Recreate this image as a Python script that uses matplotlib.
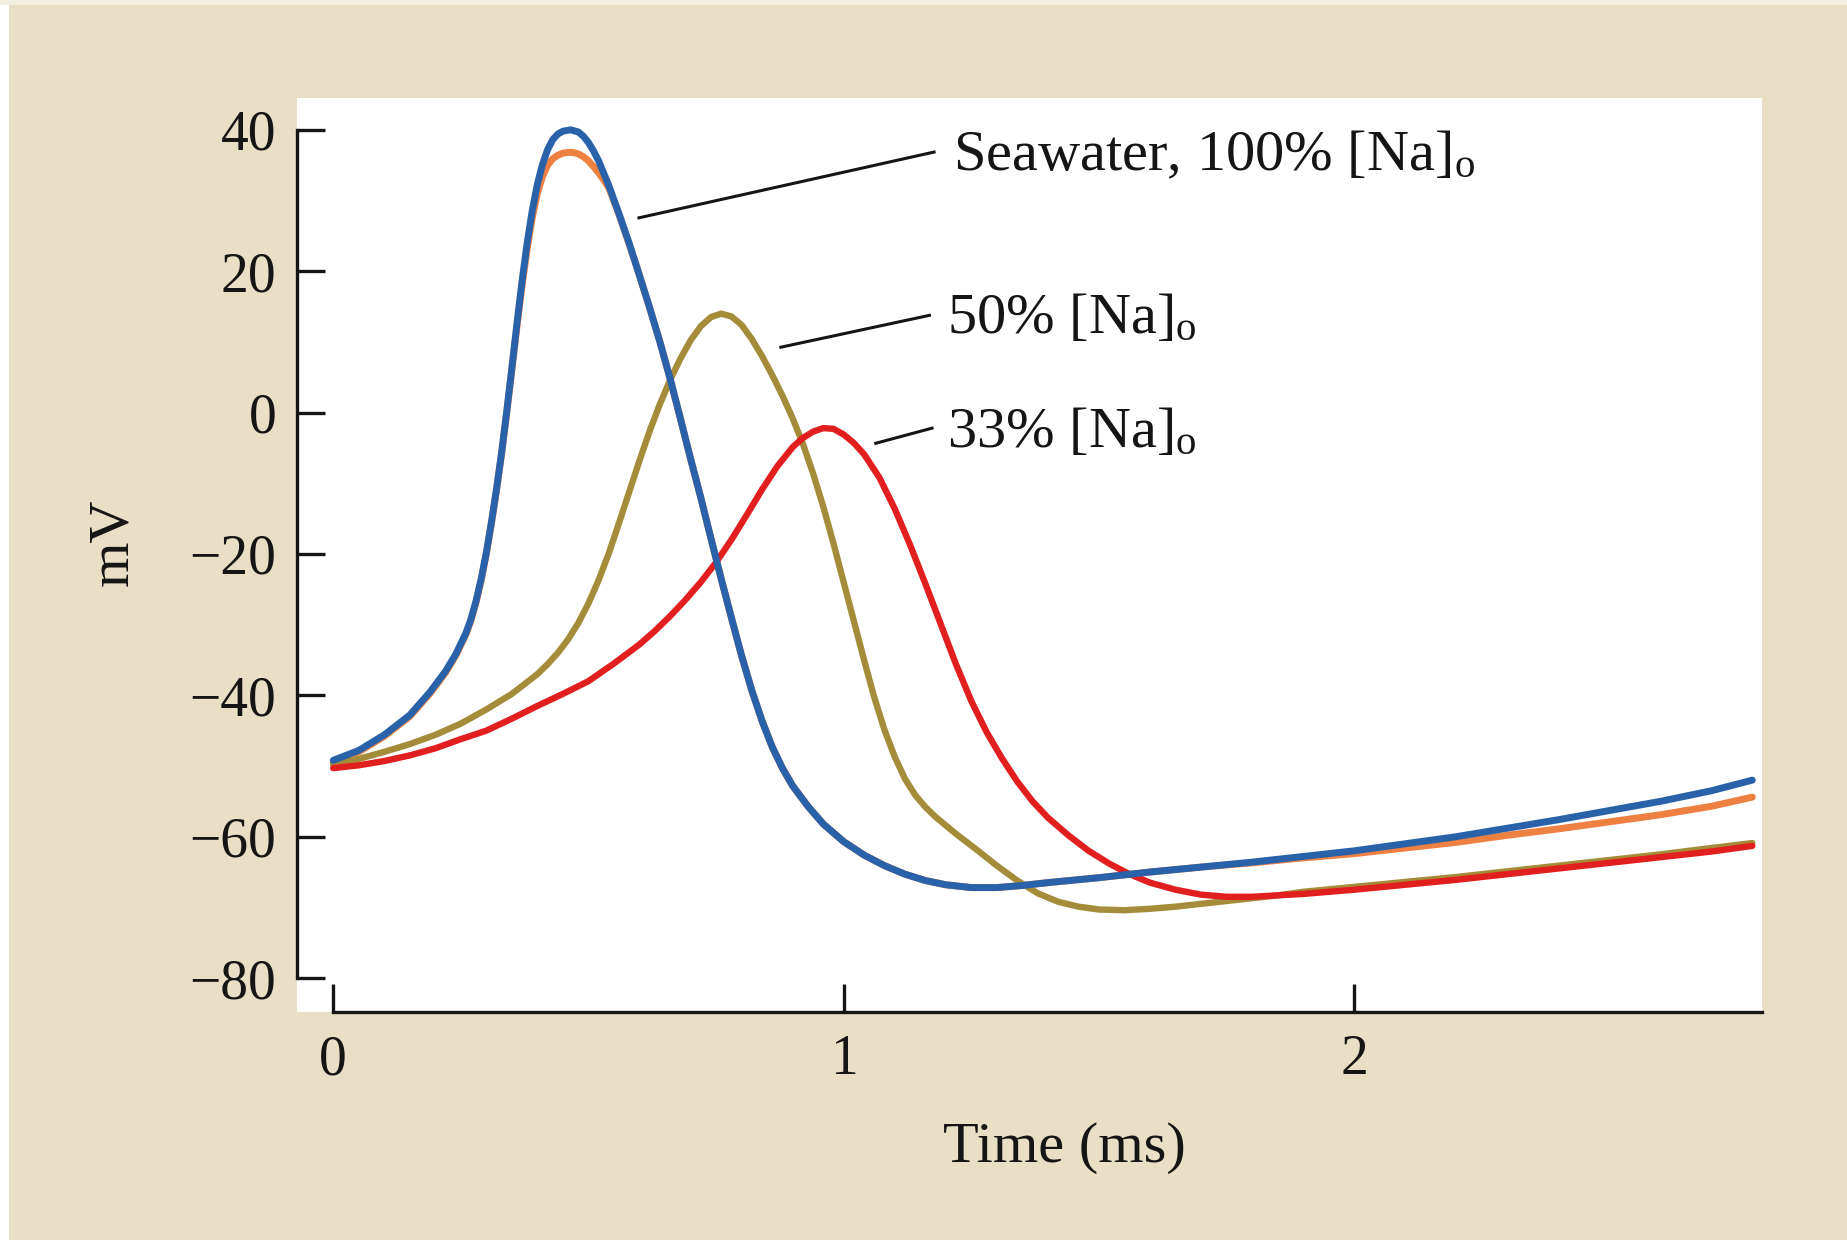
import matplotlib
matplotlib.use("Agg")
import matplotlib.pyplot as plt
from matplotlib.patches import Rectangle

plt.rcParams['font.family'] = ['Liberation Serif', 'DejaVu Serif']
plt.rcParams['mathtext.fontset'] = 'custom'
plt.rcParams['mathtext.rm'] = 'Liberation Serif'
plt.rcParams['mathtext.it'] = 'Liberation Serif:italic'

# ---------------- data (time in ms, membrane potential in mV) ----------------
t_blue = [0.00, 0.05, 0.10, 0.15, 0.19, 0.22, 0.24, 0.26, 0.27, 0.28, 0.29, 0.30,
          0.31, 0.32, 0.33, 0.34, 0.35, 0.36, 0.37, 0.38, 0.39, 0.40, 0.41, 0.42,
          0.43, 0.44, 0.45, 0.465, 0.48, 0.49, 0.50, 0.51, 0.52, 0.54, 0.56, 0.58,
          0.60, 0.62, 0.64, 0.66, 0.68, 0.70, 0.72, 0.74, 0.76, 0.78, 0.80, 0.82,
          0.84, 0.86, 0.88, 0.90, 0.93, 0.96, 1.00, 1.04, 1.08, 1.12, 1.16, 1.20,
          1.25, 1.30, 1.35, 1.40, 1.50, 1.60, 1.70, 1.80, 1.90, 2.00, 2.10, 2.20,
          2.30, 2.40, 2.50, 2.60, 2.70, 2.78]
v_blue = [-49.2, -47.8, -45.6, -42.8, -39.5, -36.6, -34.2, -31.2, -29.2, -26.6, -23.5, -19.8,
          -15.5, -10.8, -5.6, 0.2, 6.3, 12.6, 18.6, 24.0, 28.6, 32.3, 35.1, 37.2,
          38.6, 39.4, 39.8, 40.0, 39.7, 39.1, 38.2, 37.0, 35.6, 32.1, 28.1, 23.9,
          19.4, 14.8, 10.0, 4.8, -0.8, -6.5, -12.0, -17.8, -23.5, -29.0, -34.4, -39.3,
          -43.6, -47.3, -50.3, -52.8, -55.7, -58.2, -60.7, -62.6, -64.1, -65.3, -66.2, -66.8,
          -67.2, -67.2, -66.9, -66.5, -65.8, -65.0, -64.3, -63.6, -62.8, -62.0, -61.0, -60.0,
          -58.8, -57.6, -56.3, -55.0, -53.5, -52.0]

t_orange = [0.00, 0.05, 0.10, 0.15, 0.19, 0.22, 0.24, 0.26, 0.27, 0.28, 0.29, 0.30,
            0.31, 0.32, 0.33, 0.34, 0.35, 0.36, 0.37, 0.38, 0.39, 0.40, 0.41, 0.42,
            0.43, 0.44, 0.45, 0.46, 0.47, 0.48, 0.49, 0.50, 0.51, 0.52, 0.53, 0.54,
            0.56, 0.58, 0.60, 0.62, 0.64, 0.66, 0.68, 0.70, 0.72, 0.74, 0.76, 0.78,
            0.80, 0.82, 0.84, 0.86, 0.88, 0.90, 0.93, 0.96, 1.00, 1.04, 1.08, 1.12,
            1.16, 1.20, 1.25, 1.30, 1.35, 1.40, 1.50, 1.60, 1.70, 1.80, 1.90, 2.00,
            2.10, 2.20, 2.30, 2.40, 2.50, 2.60, 2.70, 2.78]
v_orange = [-49.5, -48.0, -45.8, -43.0, -39.7, -36.8, -34.4, -31.4, -29.4, -26.8, -23.7, -20.0,
            -15.7, -11.0, -5.8, 0.0, 6.0, 12.2, 18.0, 23.2, 27.6, 31.0, 33.4, 35.0,
            35.9, 36.4, 36.7, 36.8, 36.8, 36.6, 36.2, 35.6, 34.8, 33.9, 32.9, 31.8,
            28.0, 23.8, 19.4, 14.8, 10.0, 4.8, -0.8, -6.5, -12.0, -17.8, -23.5, -29.0,
            -34.4, -39.3, -43.6, -47.3, -50.3, -52.8, -55.7, -58.2, -60.7, -62.6, -64.1, -65.3,
            -66.2, -66.8, -67.2, -67.2, -66.9, -66.5, -65.8, -65.0, -64.3, -63.7, -63.0, -62.4,
            -61.6, -60.8, -59.8, -58.9, -57.9, -56.9, -55.7, -54.4]

t_gold = [0.00, 0.05, 0.10, 0.15, 0.20, 0.25, 0.30, 0.35, 0.40, 0.42, 0.44, 0.46,
          0.48, 0.50, 0.52, 0.54, 0.56, 0.58, 0.60, 0.62, 0.64, 0.66, 0.68, 0.70,
          0.72, 0.74, 0.76, 0.78, 0.80, 0.82, 0.84, 0.86, 0.88, 0.90, 0.92, 0.94,
          0.96, 0.98, 1.00, 1.02, 1.04, 1.06, 1.08, 1.10, 1.12, 1.14, 1.16, 1.18,
          1.20, 1.22, 1.26, 1.30, 1.34, 1.38, 1.42, 1.46, 1.50, 1.55, 1.60, 1.65,
          1.70, 1.75, 1.80, 1.85, 1.90, 2.00, 2.10, 2.20, 2.30, 2.40, 2.50, 2.60,
          2.70, 2.78]
v_gold = [-49.8, -49.0, -48.0, -46.9, -45.6, -44.0, -42.0, -39.8, -37.0, -35.6, -34.0, -32.1,
          -29.8, -27.0, -23.7, -19.9, -15.6, -11.2, -6.8, -2.6, 1.2, 4.6, 7.6, 10.2,
          12.2, 13.5, 14.0, 13.6, 12.4, 10.4, 8.0, 5.3, 2.4, -0.8, -4.4, -8.6,
          -13.3, -18.5, -24.0, -29.5, -35.0, -40.3, -44.9, -48.7, -51.8, -54.1, -55.8, -57.2,
          -58.4, -59.6, -61.8, -64.1, -66.2, -68.0, -69.2, -69.9, -70.3, -70.4, -70.2, -69.9,
          -69.5, -69.1, -68.7, -68.3, -67.8, -67.1, -66.4, -65.7, -64.9, -64.1, -63.3, -62.5,
          -61.6, -60.9]

t_red = [0.00, 0.05, 0.10, 0.15, 0.20, 0.25, 0.30, 0.35, 0.40, 0.45, 0.50, 0.55,
         0.60, 0.63, 0.66, 0.69, 0.72, 0.75, 0.78, 0.81, 0.84, 0.87, 0.90, 0.92,
         0.94, 0.96, 0.98, 1.00, 1.02, 1.04, 1.07, 1.10, 1.13, 1.16, 1.19, 1.22,
         1.25, 1.28, 1.31, 1.34, 1.37, 1.40, 1.44, 1.48, 1.52, 1.56, 1.60, 1.65,
         1.70, 1.75, 1.80, 1.85, 1.90, 2.00, 2.10, 2.20, 2.30, 2.40, 2.50, 2.60,
         2.70, 2.78]
v_red = [-50.3, -49.9, -49.3, -48.5, -47.5, -46.2, -45.0, -43.3, -41.5, -39.8, -38.0, -35.5,
         -32.8, -30.9, -28.8, -26.5, -24.0, -21.2, -18.0, -14.5, -10.9, -7.6, -4.9, -3.6,
         -2.7, -2.2, -2.3, -3.1, -4.3, -5.9, -9.2, -13.6, -18.7, -24.2, -29.9, -35.6,
         -40.8, -45.2, -48.9, -52.2, -55.0, -57.3, -59.8, -62.0, -63.8, -65.3, -66.5, -67.5,
         -68.2, -68.5, -68.5, -68.3, -68.1, -67.5, -66.8, -66.1, -65.3, -64.5, -63.7, -62.9,
         -62.1, -61.3]

labels = ["Seawater, 100% [Na]$_\\mathregular{o}$",
          "50% [Na]$_\\mathregular{o}$",
          "33% [Na]$_\\mathregular{o}$"]
y_ticks = [-80, -60, -40, -20, 0, 20, 40]
x_ticks = [0, 1, 2]
x_label = "Time (ms)"
y_label = "mV"

# ---------------- styling ----------------
BG = '#E9DFC7'
C_BLUE = '#2A62AA'
C_ORANGE = '#EE8142'
C_GOLD = '#A58C3A'
C_RED = '#E21F1F'
INK = '#151515'
FS = 40

fig = plt.figure(figsize=(18.47, 12.40), dpi=100, facecolor=BG)
fig.patches.append(Rectangle((0, 0), 9 / 1847, 1, transform=fig.transFigure,
                             facecolor='white', edgecolor='none', zorder=0))
fig.patches.append(Rectangle((0, 1 - 5 / 1240), 1, 5 / 1240, transform=fig.transFigure,
                             facecolor='#F3EEE2', edgecolor='none', zorder=0))

ax = fig.add_axes([297 / 1847, (1240 - 1012) / 1240, 1465 / 1847, 914 / 1240])
ax.set_facecolor('white')

ax.plot(t_orange, v_orange, color=C_ORANGE, lw=5.0, solid_capstyle='round',
        solid_joinstyle='round', zorder=2)
ax.plot(t_gold, v_gold, color=C_GOLD, lw=4.6, solid_capstyle='round',
        solid_joinstyle='round', zorder=3)
ax.plot(t_red, v_red, color=C_RED, lw=4.6, solid_capstyle='round',
        solid_joinstyle='round', zorder=4)
ax.plot(t_blue, v_blue, color=C_BLUE, lw=5.0, solid_capstyle='round',
        solid_joinstyle='round', zorder=5)

xmin, xmax = -0.0709, 2.799
ax.set_xlim(xmin, xmax)
ax.set_ylim(-84.8, 44.5)

for s in ('top', 'right'):
    ax.spines[s].set_visible(False)
for s in ('left', 'bottom'):
    ax.spines[s].set_linewidth(2.4)
    ax.spines[s].set_color(INK)
ax.spines['left'].set_bounds(-80, 40)
ax.spines['bottom'].set_bounds(0, xmax)

ax.set_yticks(y_ticks)
ax.set_xticks(x_ticks)
ax.set_yticklabels([f"{v}".replace('-', '\u2212') for v in y_ticks])
ax.set_xticklabels([str(v) for v in x_ticks])
ax.tick_params(axis='both', direction='in', length=20, width=2.4, color=INK,
               labelsize=FS, labelcolor=INK)
ax.tick_params(axis='y', pad=15)
ax.tick_params(axis='x', pad=16)

ax.set_xlabel(x_label, fontsize=FS + 2, color=INK)
ax.xaxis.label.set_va('baseline')
ax.xaxis.set_label_coords(0.524, -0.164)
ax.set_ylabel(y_label, fontsize=FS + 2, color=INK)
ax.yaxis.label.set_va('center')
ax.yaxis.set_label_coords(-0.1256, 0.514)

# leader lines and series labels
leaders = [((0.596, 1.180), (27.5, 36.9)),
           ((0.874, 1.171), (9.2, 13.8)),
           ((1.060, 1.176), (-4.4, -2.15))]
label_pos = [(1.214, 34.3), (1.202, 11.3), (1.202, -4.85)]
for (lx, ly), txt, (tx, ty) in zip(leaders, labels, label_pos):
    ax.plot(lx, ly, color=INK, lw=2.2, solid_capstyle='butt', zorder=6)
    ax.text(tx, ty, txt, fontsize=FS + 2, color=INK, ha='left', va='baseline', zorder=7)

fig.savefig('out.png', dpi=100, facecolor=BG)
